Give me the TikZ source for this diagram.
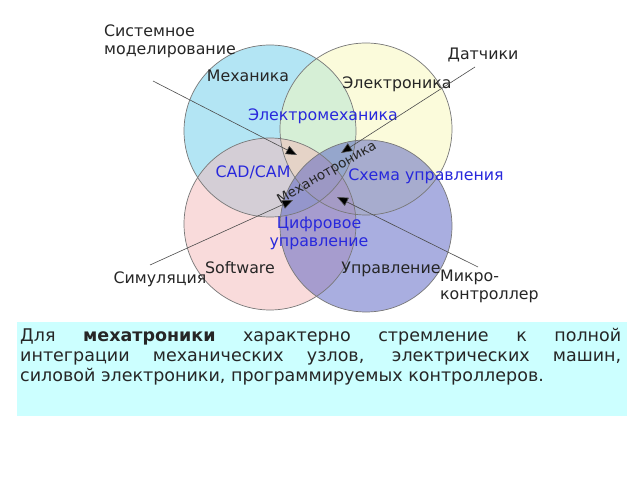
\documentclass[tikz,border=0pt]{standalone}
\usepackage{fontspec}
\setmainfont{DejaVu Sans}
\usetikzlibrary{arrows.meta}
\definecolor{cTL}{RGB}{105,205,235}
\definecolor{cTR}{RGB}{249,249,185}
\definecolor{cBL}{RGB}{245,185,185}
\definecolor{cBR}{RGB}{85,95,195}
\definecolor{lblue}{RGB}{40,40,220}
\definecolor{boxcol}{RGB}{204,255,255}
\definecolor{edge}{RGB}{120,120,120}
\tikzset{
  lab/.style={font=\fontsize{15.8}{18}\selectfont, inner sep=0pt, text=black!85},
  blab/.style={lab, text=lblue},
  pointer/.style={draw=black!70, line width=0.6pt, -{Triangle[length=11pt,width=9pt,fill=black]}},
}
\begin{document}
\begin{tikzpicture}[x=1pt,y=1pt]
\useasboundingbox (0,0) rectangle (640,480);
\fill[white] (0,0) rectangle (640,480);
% circles
\fill[cTL, fill opacity=0.5] (270,349) circle (86);
\fill[cTR, fill opacity=0.5] (366,351) circle (86);
\fill[cBL, fill opacity=0.5] (270,256) circle (86);
\fill[cBR, fill opacity=0.5] (366,254) circle (86);
\draw[edge, line width=0.7pt] (270,349) circle (86);
\draw[edge, line width=0.7pt] (366,351) circle (86);
\draw[edge, line width=0.7pt] (270,256) circle (86);
\draw[edge, line width=0.7pt] (366,254) circle (86);
% labels
\node[lab, align=left, anchor=west] (sysmod) at (104,439) {Системное\\моделирование};
\node[lab] (sens) at (483,425) {Датчики};
\node[lab] (mech) at (248,404) {Механика};
\node[lab] (elec) at (397,396) {Электроника};
\node[blab] (elmech) at (323,364) {Электромеханика};
\node[blab] (cad) at (253,308) {CAD/CAM};
\node[blab] (ctrl) at (426,304) {Схема управления};
\node[lab, rotate=30, font=\fontsize{13.5}{16}\selectfont] (mtr) at (327,307) {Механотроника};
\node[blab, align=center] (dig) at (319,247) {Цифровое\\управление};
\node[lab] (soft) at (240,212) {Software};
\node[lab] (upr) at (391,211) {Управление};
\node[lab] (sim) at (160,201) {Симуляция};
\node[lab, align=left, anchor=west] (micro) at (440,194) {Микро-\\контроллер};
% arrows
\coordinate (a1s) at (153,399); \coordinate (a1e) at (297,325);
\coordinate (a2s) at (475,413); \coordinate (a2e) at (341,327);
\coordinate (a3s) at (150,215); \coordinate (a3e) at (293,280);
\coordinate (a4s) at (478,213); \coordinate (a4e) at (337,283);
\draw[pointer] (a1s) -- (a1e);
\draw[pointer] (a2s) -- (a2e);
\draw[pointer] (a3s) -- (a3e);
\draw[pointer] (a4s) -- (a4e);
% text box
\fill[boxcol] (17,64) rectangle (627,158);
\node[anchor=north west, inner sep=0pt, text=black!85] (body) at (20,152) {\parbox{601pt}{\fontsize{17.5}{20}\selectfont\hyphenpenalty=10000\exhyphenpenalty=10000
Для \textbf{мехатроники} характерно стремление к полной\linebreak
интеграции механических узлов, электрических машин,\linebreak
силовой электроники, программируемых контроллеров.}};
\end{tikzpicture}
\end{document}
